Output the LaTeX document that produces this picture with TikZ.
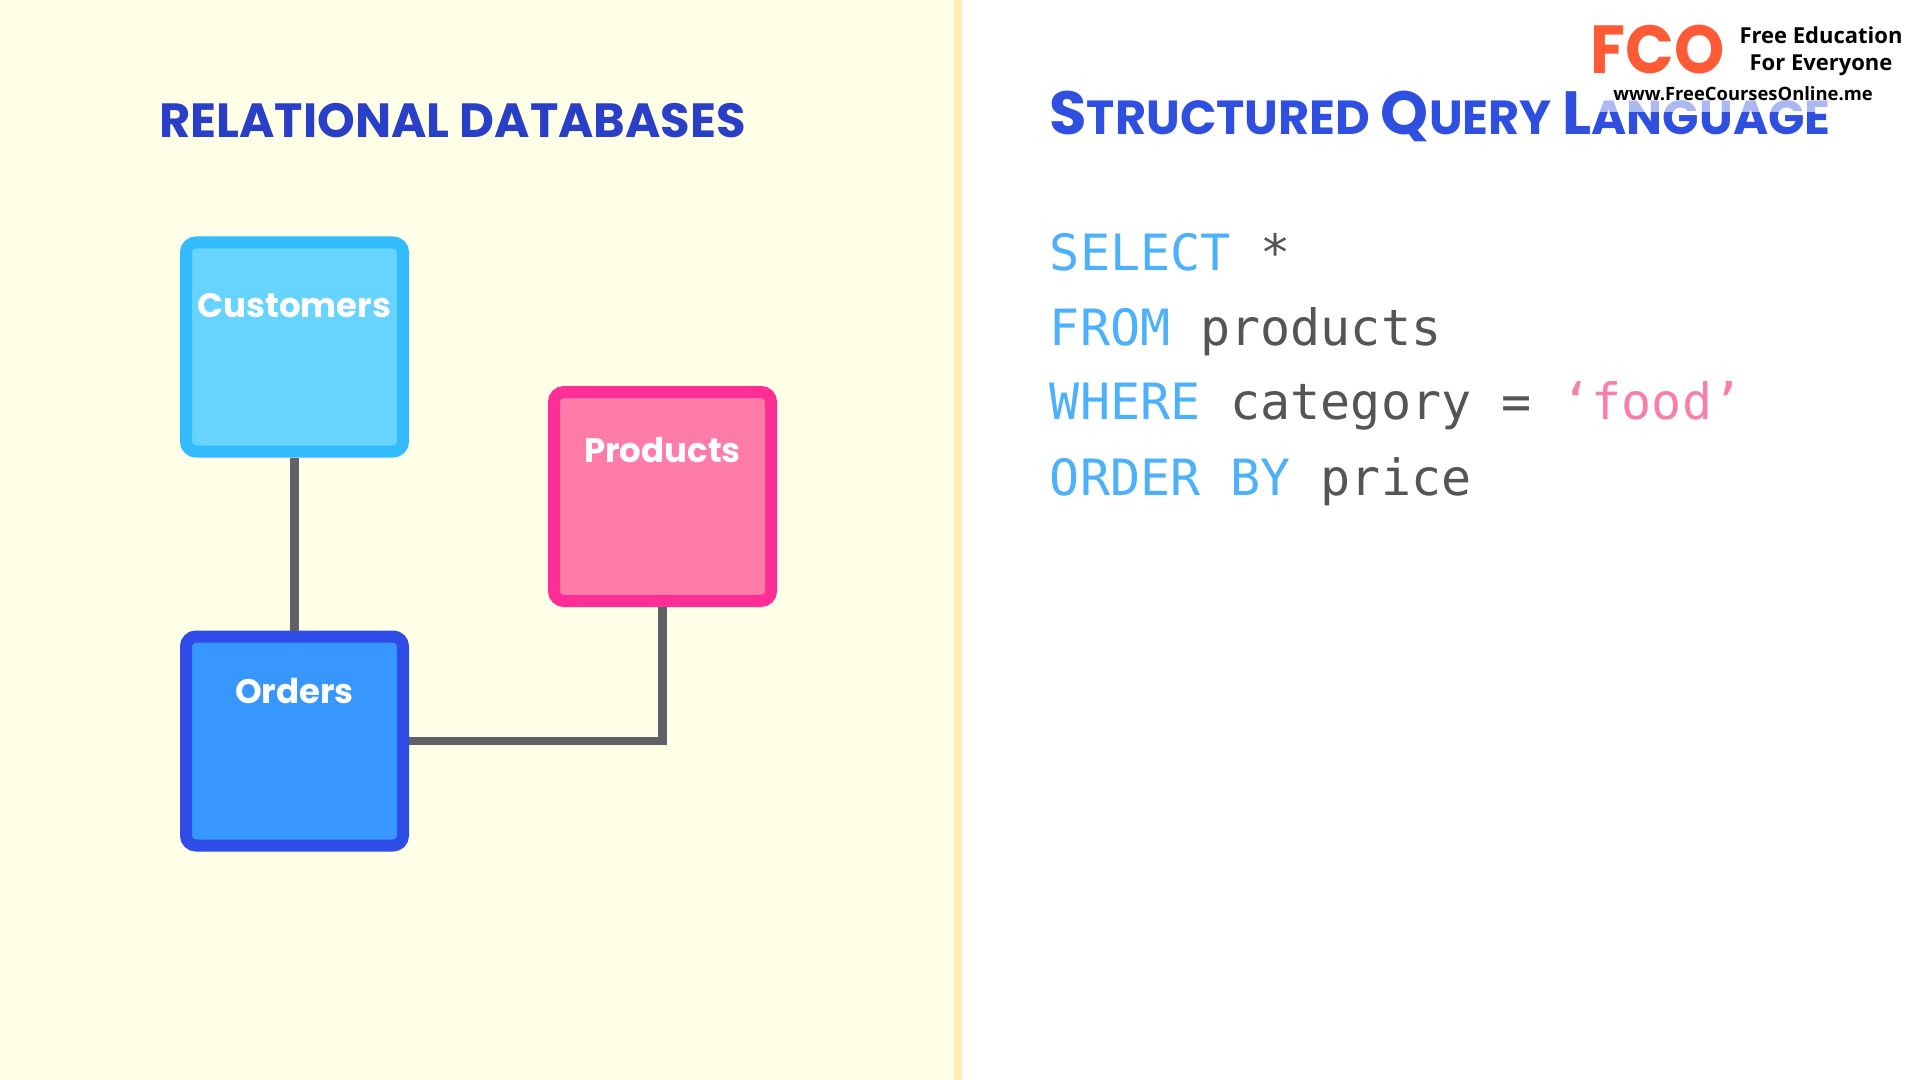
\documentclass[tikz,border=0pt]{standalone}
\usepackage{fontspec}
\newfontfamily\popf{Poppins}
\newfontfamily\logof{Open Sans}
\setmonofont{DejaVu Sans Mono}
\definecolor{paneY}{HTML}{FFFFE8}
\definecolor{stripY}{HTML}{FFEEB0}
\definecolor{custB}{HTML}{33BBFF}
\definecolor{custF}{HTML}{66D4FF}
\definecolor{prodB}{HTML}{FF2D96}
\definecolor{prodF}{HTML}{FF7BA8}
\definecolor{ordB}{HTML}{2F4BE8}
\definecolor{ordF}{HTML}{3797FF}
\definecolor{linkG}{HTML}{5F6166}
\definecolor{titleA}{HTML}{2A3FC7}
\definecolor{titleB}{HTML}{2F4FE0}
\definecolor{kw}{HTML}{4DB0FA}
\definecolor{plainG}{HTML}{555558}
\definecolor{strP}{HTML}{F97FAB}
\definecolor{logoR}{HTML}{FF5A36}
\newcommand{\bigsc}[1]{{\fontsize{30.5}{30}\selectfont #1}}
\newcommand{\smsc}[1]{{\fontsize{23.9}{24}\selectfont #1}}
\tikzset{
  box/.style={rounded corners=5pt,line width=6pt,minimum width=108.5pt,minimum height=104.5pt,inner sep=0pt},
  lbl/.style={anchor=base,text=white,inner sep=0pt,font=\popf\bfseries\fontsize{17}{20}\selectfont},
  link/.style={draw=linkG,line width=4.2pt},
  codeline/.style={anchor=base west,inner sep=0pt,font=\ttfamily\fontsize{25}{30}\selectfont,text=plainG},
  logotxt/.style={anchor=base,inner sep=0pt,text=black,font=\logof\bfseries\fontsize{11}{13}\selectfont}
}
\begin{document}
\begin{tikzpicture}[x=0.5pt,y=-0.5pt]
\useasboundingbox (0,0) rectangle (1920,1080);
\fill[white] (0,0) rectangle (1920,1080);
\fill[paneY] (0,0) rectangle (954,1080);
\fill[stripY] (954,0) rectangle (962,1080);

\node[box,draw=custB,fill=custF] (cust) at (294.5,347) {};
\node[box,draw=prodB,fill=prodF] (prod) at (662.5,496.5) {};
\node[box,draw=ordB,fill=ordF] (ord) at (294.5,741) {};
\draw[link] (cust.south) -- (ord.north);
\draw[link,line join=miter] (ord.east) -| (prod.south);
\node[lbl] (custL) at (294.5,318) {Customers};
\node[lbl] (prodL) at (662.5,462) {Products};
\node[lbl] (ordL) at (294.5,703) {Orders};

\node[anchor=base west,inner sep=0pt,text=titleA,font=\popf\bfseries\fontsize{24}{28}\selectfont] (relT) at (159,138) {RELATIONAL DATABASES};
\node[anchor=base west,inner sep=0pt,text=titleB,font=\popf\bfseries] (sqlT) at (1049,134.5) {\bigsc{S}\smsc{TRUCTURED}\hspace{5.4pt}\bigsc{Q}\smsc{UERY}\hspace{5.4pt}\bigsc{L}\smsc{ANGUAGE}};

\node[codeline] (c1) at (1049.5,271) {\textcolor{kw}{SELECT} *};
\node[codeline] (c2) at (1049.5,345) {\textcolor{kw}{FROM} products};
\node[codeline] (c3) at (1049.5,419) {\textcolor{kw}{WHERE} category = \textcolor{strP}{‘food’}};
\node[codeline] (c4) at (1049.5,495) {\textcolor{kw}{ORDER BY} price};

\fill[white,opacity=.6] (1585,0) rectangle (1905,112);
\node[anchor=base,inner sep=0pt,text=logoR,font=\popf\bfseries\fontsize{34}{36}\selectfont] (fco) at (1657.5,74) {\scalebox{0.94}[1]{FCO}};
\node[logotxt] (l1) at (1821,44) {Free Education};
\node[logotxt] (l2) at (1821,71) {For Everyone};
\node[logotxt,font=\logof\bfseries\fontsize{9.2}{11}\selectfont] (l3) at (1743,101) {www.FreeCoursesOnline.me};
\end{tikzpicture}
\end{document}
